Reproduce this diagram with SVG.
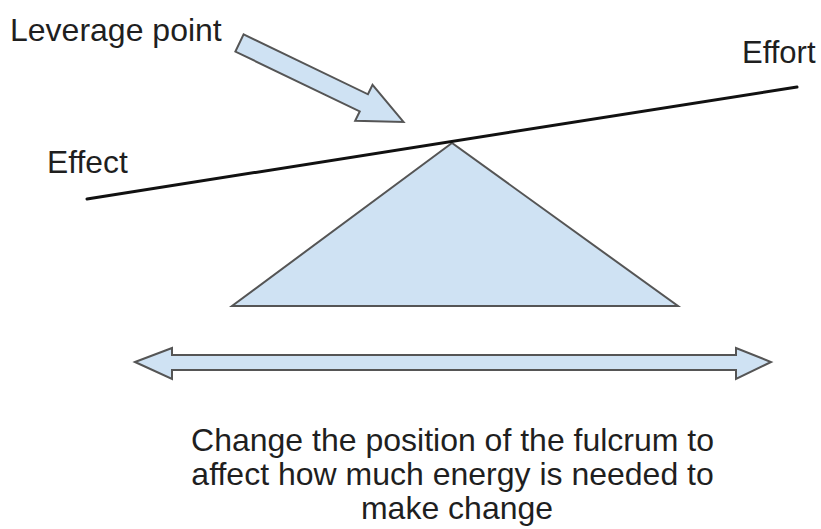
<svg xmlns="http://www.w3.org/2000/svg" width="821" height="529" viewBox="0 0 821 529">
<style>
text{font-family:"Liberation Sans",Arial,sans-serif;font-size:32px;fill:#1f1f1f}
.shape{fill:#cfe2f3;stroke:#555;stroke-width:2;stroke-linejoin:miter}
</style>
<rect width="821" height="529" fill="#fff"/>
<g id="fulcrum"><polygon class="shape" points="452,143 232,306 678,306" stroke-width="1.6"/></g>
<g id="connectors">
<line id="lever" x1="87" y1="199" x2="797" y2="87" stroke="#111" stroke-width="3" stroke-linecap="round"/>
<polygon id="leverage-arrow" class="shape" transform="translate(239.5,43) rotate(25.7)" points="0,-9.5 138,-9.5 138,-20 182,0 138,20 138,9.5 0,9.5"/>
<polygon id="range-arrow" class="shape" points="135,362 172,348 172,355 736,355 736,348 771,362 736,379 736,370 172,370 172,379"/>
</g>
<g id="label-leverage"><text x="10" y="41">Leverage point</text></g>
<g id="label-effort"><text x="742" y="63" style="font-size:31px">Effort</text></g>
<g id="label-effect"><text x="47" y="173" style="font-size:31.8px">Effect</text></g>
<g id="caption"><text text-anchor="middle" x="457">
<tspan x="457" y="451">Change the position of the fulcrum to</tspan>
<tspan x="457" y="485">affect how much energy is needed to</tspan>
<tspan x="457" y="519">make change</tspan>
</text></g>
</svg>
